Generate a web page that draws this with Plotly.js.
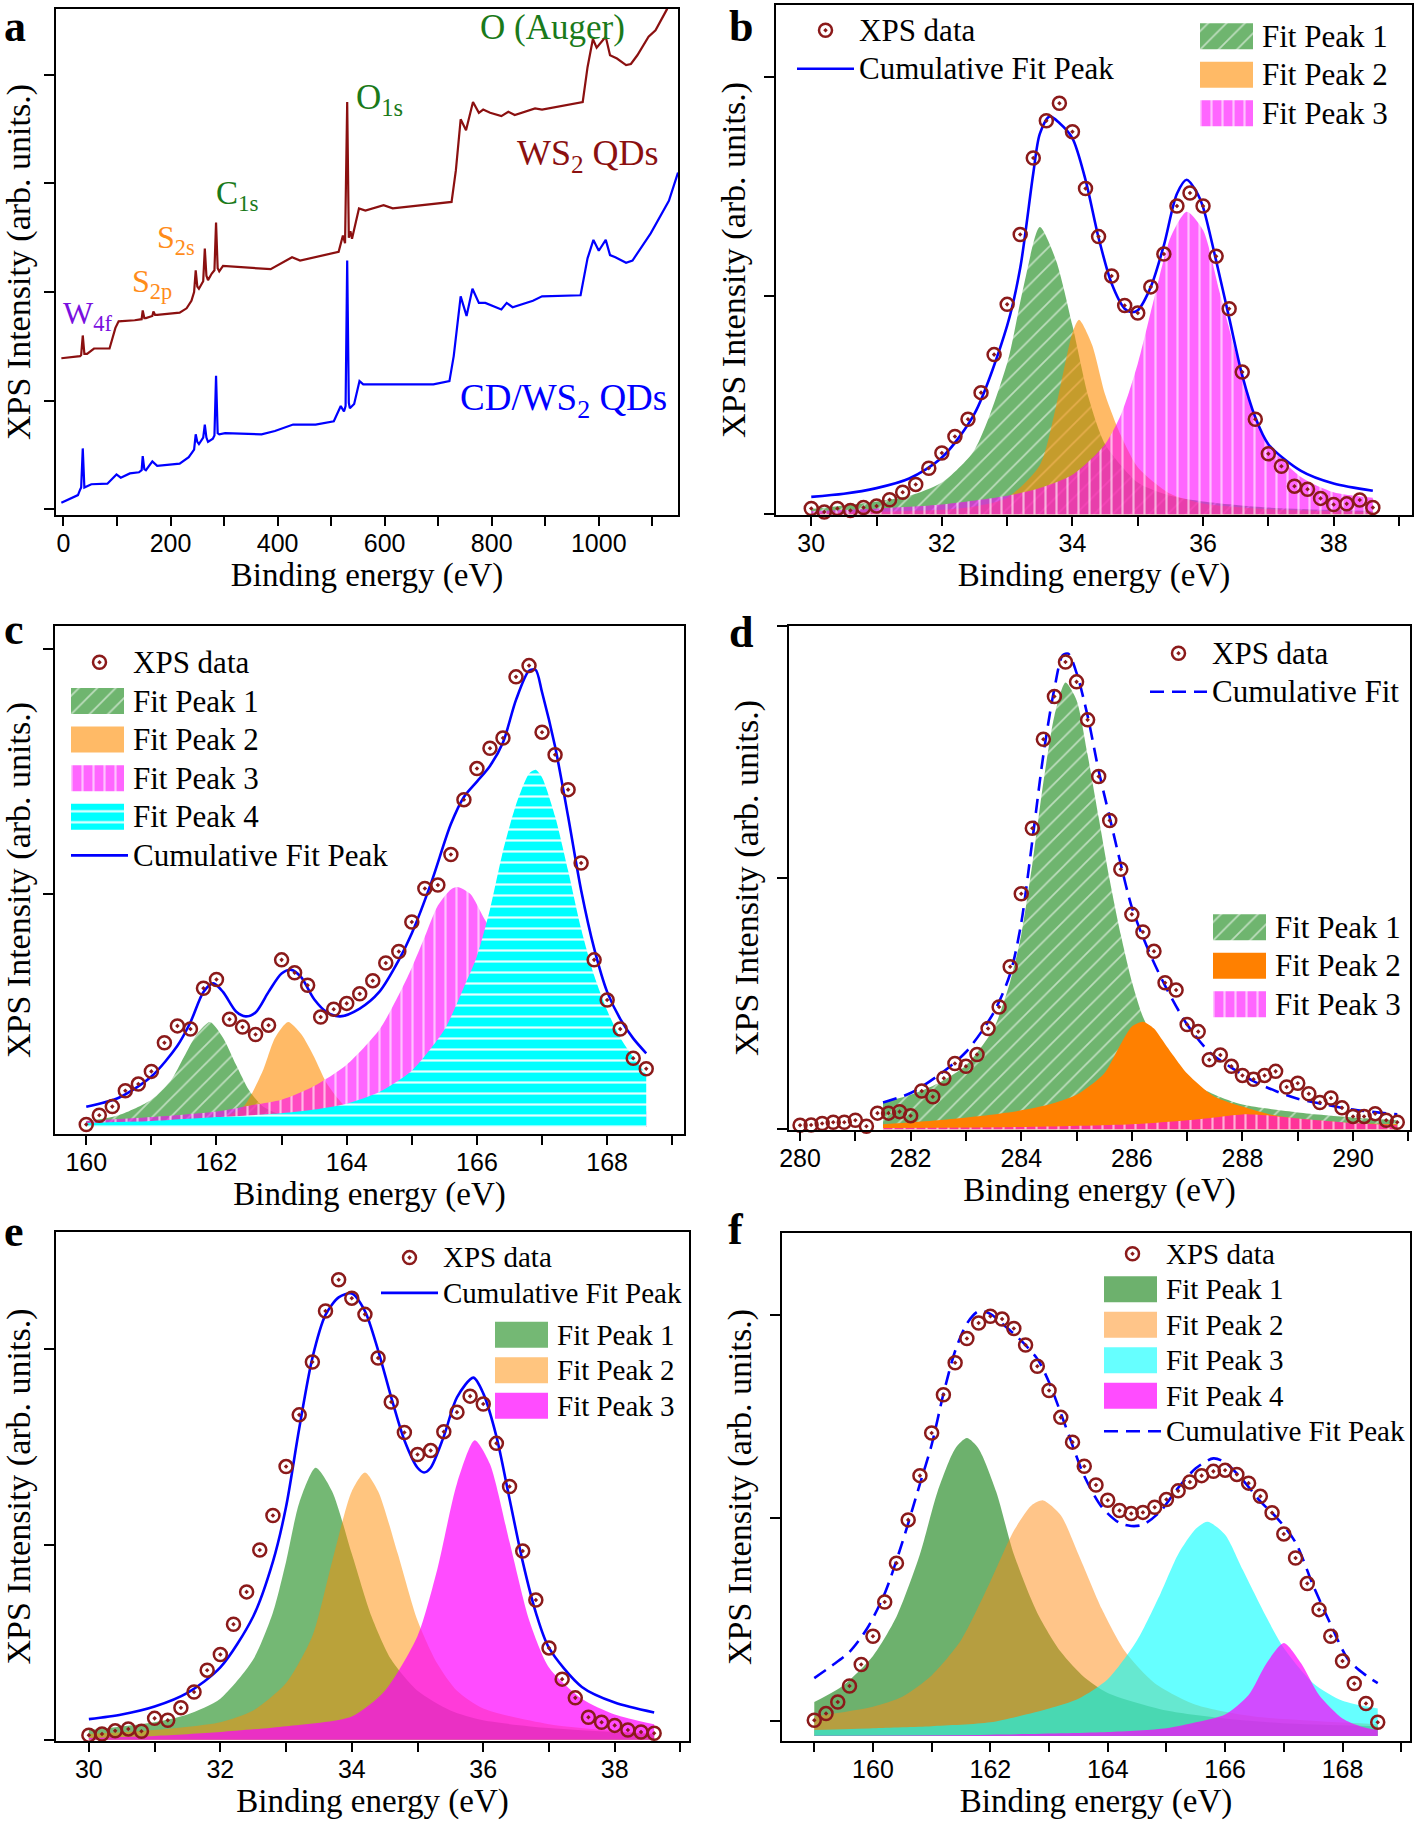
<!DOCTYPE html>
<html>
<head>
<meta charset="utf-8">
<script src="https://cdn.plot.ly/plotly-3.0.1.min.js"></script>
<style>html,body{margin:0;padding:0;background:#fff;}</style>
</head>
<body>
<div id="chart" style="width:1418px;height:1823px;"></div>
<script>
// ---------------- Panel a : survey spectra ----------------
const surveyE_WS2 = [-4,31,33,36,39,44,57,86,97,103,133,146,148,151,154,166,168,171,175,217,230,239,244,247,250,253,261,264,267,270,277,282,285,288,291,298,387,404,427,442,480,514,522,526,530,533,536,539,552,564,598,615,725,733,742,752,765,776,784,797,818,831,843,881,894,970,979,989,996,1013,1021,1034,1051,1060,1072,1093,1106,1127,1140];
const surveyI_WS2 = [1.39,1.41,1.42,1.60,1.43,1.43,1.48,1.48,1.67,1.73,1.74,1.75,1.83,1.76,1.76,1.78,1.82,1.79,1.79,1.81,1.85,1.92,2.00,2.20,2.05,2.03,2.10,2.40,2.15,2.11,2.17,2.20,2.64,2.22,2.19,2.24,2.21,2.26,2.32,2.29,2.33,2.37,2.52,2.45,3.75,2.50,2.56,2.49,2.77,2.75,2.80,2.77,2.83,3.12,3.59,3.49,3.75,3.65,3.68,3.65,3.62,3.66,3.63,3.69,3.68,3.75,4.07,4.33,4.25,4.35,4.18,4.15,4.09,4.10,4.18,4.35,4.41,4.60,4.75];
const surveyE_CD = [-4,14,27,31,33,36,39,52,82,99,107,124,141,146,148,151,154,166,175,217,234,244,247,250,253,261,264,267,270,279,282,285,288,291,302,370,395,429,471,505,518,524,527,530,533,535,543,553,560,640,691,721,729,742,753,764,776,788,818,828,839,877,894,966,979,990,1000,1013,1021,1031,1051,1063,1097,1131,1148];
const surveyI_CD = [0.06,0.10,0.13,0.18,0.20,0.56,0.20,0.23,0.235,0.32,0.29,0.33,0.34,0.36,0.49,0.37,0.36,0.44,0.40,0.42,0.48,0.55,0.69,0.62,0.60,0.66,0.78,0.66,0.62,0.65,0.68,1.23,0.70,0.69,0.70,0.69,0.72,0.78,0.78,0.81,0.95,0.90,0.95,2.29,0.98,0.93,0.97,1.18,1.15,1.15,1.15,1.18,1.41,1.96,1.78,2.03,1.90,1.90,1.84,1.90,1.86,1.92,1.96,1.97,2.31,2.48,2.38,2.48,2.34,2.32,2.27,2.29,2.54,2.84,3.10];
const surveyLabels = ['O (Auger)','O<sub>1s</sub>','WS<sub>2</sub> QDs','C<sub>1s</sub>','S<sub>2s</sub>','S<sub>2p</sub>','W<sub>4f</sub>','CD/WS<sub>2</sub> QDs'];
const surveyLabelE = [914,590,979,325,211,165,45,934];
const surveyLabelI = [4.44,3.77,3.26,2.89,2.48,2.08,1.78,1.00];

// ---------------- Panel b : W 4f (WS2 QDs) ----------------
const bE = [30.0,30.2,30.4,30.6,30.8,31.0,31.2,31.4,31.6,31.8,32.0,32.2,32.4,32.6,32.8,33.0,33.2,33.4,33.6,33.8,34.0,34.2,34.4,34.6,34.8,35.0,35.2,35.4,35.6,35.8,36.0,36.2,36.4,36.6,36.8,37.0,37.2,37.4,37.6,37.8,38.0,38.2,38.4,38.6];
const bData = [0.026,0.01,0.026,0.017,0.03,0.037,0.066,0.10,0.136,0.21,0.28,0.355,0.434,0.556,0.73,0.96,1.28,1.63,1.80,1.88,1.75,1.49,1.27,1.09,0.955,0.92,1.04,1.19,1.41,1.47,1.41,1.18,0.94,0.65,0.434,0.276,0.219,0.128,0.114,0.072,0.044,0.047,0.065,0.03];
const bCumE = [30.0,30.5,31.0,31.5,32.0,32.5,33.0,33.2,33.4,33.5,33.65,33.8,34.0,34.2,34.4,34.6,34.8,34.9,35.0,35.2,35.4,35.6,35.75,35.9,36.0,36.2,36.4,36.6,36.8,37.0,37.5,38.0,38.6];
const bCum = [0.079,0.093,0.119,0.163,0.259,0.46,0.863,1.126,1.56,1.74,1.82,1.79,1.72,1.53,1.265,1.055,0.94,0.924,0.933,1.04,1.23,1.466,1.53,1.475,1.405,1.16,0.898,0.635,0.443,0.32,0.198,0.14,0.107];
const bP1E = [30.0,31.0,31.5,32.0,32.5,33.0,33.25,33.5,33.75,34.0,34.25,34.5,35.0,35.5,36.0,37.0,38.6];
const bP1 = [0.023,0.058,0.084,0.145,0.294,0.69,1.04,1.314,1.16,0.863,0.53,0.32,0.145,0.084,0.058,0.03,0.014];
const bP2E = [30.0,32.0,32.5,33.0,33.5,33.75,34.0,34.1,34.3,34.5,34.75,35.0,35.5,36.0,37.0,38.6];
const bP2 = [0.005,0.02,0.035,0.075,0.224,0.495,0.83,0.889,0.775,0.548,0.355,0.215,0.093,0.049,0.023,0.01];
const bP3E = [30.0,31.0,32.0,33.0,33.5,34.0,34.5,34.75,35.0,35.25,35.5,35.75,36.0,36.25,36.5,36.75,37.0,37.5,38.0,38.6];
const bP3 = [0.014,0.026,0.044,0.084,0.119,0.18,0.32,0.46,0.688,0.986,1.265,1.384,1.30,1.02,0.74,0.48,0.32,0.17,0.10,0.075];

// ---------------- Panel c : S 2p ----------------
const cE = [160.0,160.2,160.4,160.6,160.8,161.0,161.2,161.4,161.6,161.8,162.0,162.2,162.4,162.6,162.8,163.0,163.2,163.4,163.6,163.8,164.0,164.2,164.4,164.6,164.8,165.0,165.2,165.4,165.6,165.8,166.0,166.2,166.4,166.6,166.8,167.0,167.2,167.4,167.6,167.8,168.0,168.2,168.4,168.6];
const cData = [0.01,0.048,0.083,0.148,0.175,0.227,0.344,0.413,0.40,0.567,0.603,0.44,0.408,0.378,0.416,0.683,0.63,0.579,0.449,0.481,0.505,0.544,0.598,0.67,0.717,0.838,0.975,0.989,1.114,1.338,1.465,1.548,1.59,1.84,1.886,1.614,1.522,1.379,1.079,0.683,0.519,0.40,0.281,0.238];
const cCumE = [160.0,160.5,161.0,161.4,161.6,161.8,161.95,162.1,162.3,162.45,162.6,162.8,163.0,163.15,163.3,163.5,163.7,163.9,164.2,164.5,164.8,165.0,165.3,165.6,165.8,166.0,166.2,166.4,166.6,166.8,166.9,167.0,167.2,167.4,167.6,167.8,168.0,168.2,168.4,168.6];
const cCum = [0.082,0.119,0.206,0.332,0.428,0.552,0.587,0.552,0.472,0.452,0.468,0.552,0.627,0.642,0.612,0.522,0.468,0.452,0.484,0.552,0.682,0.792,1.0,1.238,1.349,1.412,1.476,1.572,1.746,1.865,1.869,1.777,1.555,1.269,0.968,0.73,0.552,0.442,0.362,0.301];
const cP1E = [160.0,160.5,161.0,161.3,161.5,161.7,161.9,162.1,162.3,162.5,162.7,163.0,163.5,164.0,165.0,168.6];
const cP1 = [0.024,0.048,0.111,0.19,0.286,0.38,0.429,0.365,0.254,0.15,0.087,0.048,0.024,0.016,0.008,0.003];
const cP2E = [160.0,161.0,162.0,162.4,162.7,162.9,163.1,163.3,163.5,163.7,164.0,164.5,165.0,166.0,168.6];
const cP2 = [0.002,0.008,0.032,0.079,0.222,0.365,0.429,0.38,0.286,0.175,0.079,0.032,0.016,0.008,0.003];
const cP3E = [160.0,161.0,162.0,162.5,163.0,163.5,164.0,164.5,164.8,165.0,165.2,165.4,165.6,165.7,165.9,166.1,166.3,166.6,167.0,167.5,168.0,168.6];
const cP3 = [0.024,0.04,0.063,0.087,0.111,0.167,0.254,0.397,0.54,0.651,0.778,0.905,0.971,0.981,0.952,0.857,0.762,0.571,0.38,0.206,0.111,0.063];
const cP4E = [160.0,161.0,162.0,163.0,163.5,164.0,164.5,165.0,165.5,165.8,166.0,166.2,166.4,166.6,166.8,166.9,167.0,167.2,167.4,167.6,167.8,168.0,168.2,168.4,168.6];
const cP4 = [0.016,0.024,0.04,0.056,0.071,0.095,0.143,0.23,0.397,0.571,0.698,0.889,1.127,1.317,1.444,1.46,1.429,1.27,1.048,0.81,0.619,0.476,0.365,0.286,0.214];

// ---------------- Panel d : C 1s ----------------
const dE = [280.0,280.2,280.4,280.6,280.8,281.0,281.2,281.4,281.6,281.8,282.0,282.2,282.4,282.6,282.8,283.0,283.2,283.4,283.6,283.8,284.0,284.2,284.4,284.6,284.8,285.0,285.2,285.4,285.6,285.8,286.0,286.2,286.4,286.6,286.8,287.0,287.2,287.4,287.6,287.8,288.0,288.2,288.4,288.6,288.8,289.0,289.2,289.4,289.6,289.8,290.0,290.2,290.4,290.6,290.8];
const dData = [0.016,0.017,0.023,0.028,0.028,0.036,0.012,0.064,0.064,0.07,0.054,0.152,0.129,0.203,0.261,0.25,0.297,0.40,0.486,0.646,0.936,1.196,1.55,1.72,1.857,1.778,1.627,1.402,1.227,1.033,0.854,0.784,0.707,0.582,0.553,0.416,0.388,0.276,0.295,0.25,0.214,0.199,0.214,0.23,0.168,0.183,0.141,0.106,0.124,0.085,0.051,0.051,0.062,0.036,0.028];
const dCumE = [281.5,282.0,282.5,283.0,283.5,283.8,284.0,284.2,284.4,284.6,284.75,284.85,285.0,285.2,285.4,285.6,285.8,286.0,286.3,286.6,287.0,287.4,287.8,288.2,288.6,289.0,289.5,290.0,290.8];
const dCum = [0.106,0.144,0.214,0.307,0.463,0.618,0.82,1.146,1.488,1.752,1.884,1.89,1.814,1.643,1.425,1.239,1.053,0.882,0.711,0.571,0.416,0.307,0.245,0.191,0.152,0.121,0.098,0.078,0.059];
const dP1E = [281.5,282.0,282.5,283.0,283.5,283.8,284.0,284.2,284.4,284.6,284.8,285.0,285.2,285.4,285.6,285.8,286.0,286.2,286.5,287.0,287.5,288.0,289.0,290.0,290.8];
const dP1 = [0.106,0.137,0.183,0.253,0.40,0.587,0.773,1.053,1.379,1.643,1.775,1.705,1.488,1.239,0.991,0.773,0.587,0.447,0.323,0.199,0.137,0.098,0.067,0.047,0.036];
const dP2E = [281.5,282.5,283.5,284.0,284.5,285.0,285.5,285.8,286.0,286.2,286.4,286.6,287.0,287.5,288.0,288.5,289.0,290.0,290.8];
const dP2 = [0.02,0.036,0.059,0.075,0.098,0.137,0.222,0.339,0.408,0.427,0.40,0.339,0.222,0.129,0.09,0.059,0.043,0.025,0.02];
const dP3E = [281.5,284.0,286.0,287.0,287.5,288.0,288.5,289.0,290.0,290.8];
const dP3 = [0.005,0.009,0.02,0.036,0.047,0.059,0.054,0.043,0.025,0.016];

// ---------------- Panel e : W 4f (CD/WS2 QDs) ----------------
const eE = [30.0,30.2,30.4,30.6,30.8,31.0,31.2,31.4,31.6,31.8,32.0,32.2,32.4,32.6,32.8,33.0,33.2,33.4,33.6,33.8,34.0,34.2,34.4,34.6,34.8,35.0,35.2,35.4,35.6,35.8,36.0,36.2,36.4,36.6,36.8,37.0,37.2,37.4,37.6,37.8,38.0,38.2,38.4,38.6];
const eData = [0.024,0.03,0.046,0.056,0.044,0.11,0.10,0.164,0.245,0.357,0.437,0.592,0.758,0.973,1.149,1.40,1.665,1.936,2.197,2.357,2.263,2.18,1.956,1.731,1.575,1.462,1.482,1.579,1.679,1.761,1.721,1.519,1.298,0.967,0.716,0.471,0.311,0.215,0.116,0.09,0.074,0.05,0.04,0.034];
const eCumE = [30.0,30.5,31.0,31.5,32.0,32.5,32.8,33.0,33.2,33.4,33.6,33.8,34.0,34.2,34.4,34.6,34.8,35.0,35.1,35.2,35.4,35.6,35.85,36.0,36.2,36.4,36.6,36.8,37.0,37.5,38.0,38.6];
const eCum = [0.106,0.13,0.171,0.241,0.371,0.632,0.913,1.194,1.595,1.956,2.177,2.267,2.287,2.197,1.996,1.755,1.535,1.394,1.37,1.394,1.555,1.755,1.856,1.775,1.555,1.234,0.913,0.652,0.471,0.271,0.191,0.14];
const eP1E = [30.0,31.0,31.5,32.0,32.5,32.8,33.0,33.2,33.45,33.7,34.0,34.3,34.6,35.0,35.5,36.0,37.0,38.6];
const eP1 = [0.05,0.09,0.13,0.211,0.411,0.652,0.913,1.214,1.394,1.274,0.953,0.632,0.411,0.251,0.15,0.10,0.06,0.03];
const eP2E = [30.0,31.0,32.0,32.5,33.0,33.4,33.7,34.0,34.2,34.4,34.7,35.0,35.3,35.6,36.0,37.0,38.6];
const eP2 = [0.03,0.05,0.09,0.15,0.291,0.532,0.913,1.274,1.37,1.274,0.953,0.612,0.391,0.251,0.16,0.08,0.03];
const eP3E = [30.0,31.0,32.0,33.0,34.0,34.5,35.0,35.3,35.6,35.87,36.1,36.4,36.7,37.0,37.5,38.0,38.6];
const eP3 = [0.01,0.02,0.04,0.07,0.12,0.25,0.532,0.873,1.314,1.535,1.415,1.013,0.612,0.371,0.211,0.13,0.08];

// ---------------- Panel f : S 2p (CD/WS2 QDs) ----------------
const fE = [159.0,159.2,159.4,159.6,159.8,160.0,160.2,160.4,160.6,160.8,161.0,161.2,161.4,161.6,161.8,162.0,162.2,162.4,162.6,162.8,163.0,163.2,163.4,163.6,163.8,164.0,164.2,164.4,164.6,164.8,165.0,165.2,165.4,165.6,165.8,166.0,166.2,166.4,166.6,166.8,167.0,167.2,167.4,167.6,167.8,168.0,168.2,168.4,168.6];
const fData = [0.077,0.110,0.167,0.246,0.352,0.491,0.660,0.851,1.064,1.282,1.492,1.680,1.838,1.957,2.034,2.067,2.053,2.007,1.925,1.821,1.701,1.569,1.447,1.328,1.236,1.161,1.110,1.095,1.101,1.126,1.164,1.207,1.251,1.282,1.303,1.309,1.288,1.245,1.180,1.099,0.995,0.876,0.751,0.622,0.491,0.369,0.258,0.160,0.067];
const fCumE = [159.0,159.3,159.6,159.9,160.2,160.5,160.8,161.0,161.2,161.4,161.6,161.8,162.0,162.2,162.5,162.8,163.0,163.3,163.6,163.9,164.2,164.4,164.6,164.9,165.2,165.5,165.8,166.0,166.3,166.6,166.9,167.2,167.5,167.8,168.1,168.4,168.6];
const fCum = [0.285,0.346,0.414,0.529,0.702,0.953,1.241,1.434,1.684,1.896,2.031,2.092,2.079,2.031,1.954,1.857,1.742,1.511,1.280,1.127,1.049,1.034,1.040,1.107,1.222,1.318,1.367,1.347,1.261,1.155,1.068,0.953,0.741,0.548,0.375,0.298,0.260];
const fP1E = [159.0,159.5,160.0,160.4,160.8,161.1,161.4,161.6,161.8,162.1,162.4,162.8,163.2,163.6,164.0,165.0,166.0,167.0,168.6];
const fP1 = [0.167,0.250,0.394,0.587,0.895,1.203,1.415,1.467,1.415,1.203,0.895,0.606,0.414,0.289,0.212,0.125,0.086,0.063,0.048];
const fP2E = [159.0,160.0,160.5,161.0,161.5,162.0,162.4,162.7,162.9,163.2,163.5,163.9,164.3,164.8,165.5,166.5,168.6];
const fP2 = [0.096,0.144,0.193,0.298,0.471,0.760,1.010,1.135,1.160,1.087,0.895,0.625,0.414,0.260,0.154,0.096,0.058];
const fP3E = [159.0,160.0,161.0,162.0,163.0,163.5,164.0,164.5,164.9,165.2,165.5,165.7,166.0,166.3,166.7,167.0,167.5,168.0,168.6];
const fP3 = [0.029,0.038,0.048,0.067,0.135,0.183,0.279,0.471,0.702,0.895,1.020,1.055,0.991,0.818,0.587,0.433,0.260,0.173,0.135];
const fP4E = [159.0,162.0,164.0,165.0,165.5,166.0,166.4,166.7,167.0,167.3,167.6,168.0,168.3,168.6];
const fP4 = [0.001,0.006,0.019,0.038,0.067,0.106,0.202,0.356,0.458,0.356,0.202,0.086,0.048,0.029];

// ---------------- styling ----------------
const SERIF = '"Liberation Serif", "Times New Roman", serif';
const SANS = '"Liberation Sans", Arial, sans-serif';
const DOTRED = '#8B1A1A';
const BLUE = '#0000FF';
const W = 1418, H = 1823;
const px = v => v / W;
const py = v => 1 - v / H;

const HATCH = {shape:'/', fgcolor:'#ffffff', fgopacity:0.55, size:13, solidity:0.13};
const VSTRIPE = {shape:'|', fgcolor:'#ffffff', fgopacity:0.6, size:11, solidity:0.2};
const HSTRIPE = {shape:'-', fgcolor:'#ffffff', fgopacity:0.9, size:11, solidity:0.2};

// legend label with its own glyph size (legend font size sets the row pitch)
const nm = (s, size) => '<span style="font-size:' + size + 'px">' + s + '</span>';

function pts(x, y, xa, ya, lg, rank, ts) {
  return {type:'scatter', mode:'markers', x:x, y:y, xaxis:xa, yaxis:ya, name:nm('XPS data', ts),
    legend:lg, legendrank:rank, cliponaxis:false, hoverinfo:'skip',
    marker:{symbol:'circle-open-dot', size:13, color:DOTRED, line:{width:2.5, color:DOTRED}}};
}
function fit(x, y, xa, ya, name, lg, rank, color, pattern) {
  const t = {type:'scatter', mode:'lines', x:x, y:y, xaxis:xa, yaxis:ya, name:name,
    legend:lg, legendrank:rank, fill:'tozeroy', fillcolor:color, hoverinfo:'skip',
    line:{width:0, color:color, shape:'spline', smoothing:0.7}};
  if (pattern) t.fillpattern = Object.assign({bgcolor:color}, pattern);
  return t;
}
function cum(x, y, xa, ya, name, lg, rank, dash) {
  return {type:'scatter', mode:'lines', x:x, y:y, xaxis:xa, yaxis:ya, name:name,
    legend:lg, legendrank:rank, hoverinfo:'skip',
    line:{color:BLUE, width:2.6, shape:'spline', smoothing:0.8, dash:dash || 'solid'}};
}

const GREEN_H = 'rgba(50,150,50,0.70)';
const ORANGE_L = 'rgba(255,140,0,0.60)';
const MAGENTA_S = 'rgba(255,0,255,0.60)';
const T1 = 31, T2 = 29;

const traces = [
  // a
  {type:'scatter', mode:'lines', x:surveyE_WS2, y:surveyI_WS2, xaxis:'x', yaxis:'y', name:'WS2 QDs', showlegend:false,
   line:{color:'#8B1010', width:2.2}, hoverinfo:'skip'},
  {type:'scatter', mode:'lines', x:surveyE_CD, y:surveyI_CD, xaxis:'x', yaxis:'y', name:'CD/WS2 QDs', showlegend:false,
   line:{color:BLUE, width:2.2}, hoverinfo:'skip'},
  // b
  fit(bP1E, bP1, 'x2', 'y2', nm('Fit Peak 1', T1), 'legend2', 1, GREEN_H, HATCH),
  fit(bP2E, bP2, 'x2', 'y2', nm('Fit Peak 2', T1), 'legend2', 2, ORANGE_L),
  fit(bP3E, bP3, 'x2', 'y2', nm('Fit Peak 3', T1), 'legend2', 3, MAGENTA_S, VSTRIPE),
  cum(bCumE, bCum, 'x2', 'y2', nm('Cumulative Fit Peak', T1), 'legend', 2),
  pts(bE, bData, 'x2', 'y2', 'legend', 1, T1),
  // c
  fit(cP1E, cP1, 'x3', 'y3', nm('Fit Peak 1', T1), 'legend3', 2, GREEN_H, HATCH),
  fit(cP2E, cP2, 'x3', 'y3', nm('Fit Peak 2', T1), 'legend3', 3, ORANGE_L),
  fit(cP3E, cP3, 'x3', 'y3', nm('Fit Peak 3', T1), 'legend3', 4, MAGENTA_S, VSTRIPE),
  fit(cP4E, cP4, 'x3', 'y3', nm('Fit Peak 4', T1), 'legend3', 5, '#00FFFF', HSTRIPE),
  cum(cCumE, cCum, 'x3', 'y3', nm('Cumulative Fit Peak', T1), 'legend3', 6),
  pts(cE, cData, 'x3', 'y3', 'legend3', 1, T1),
  // d
  fit(dP1E, dP1, 'x4', 'y4', nm('Fit Peak 1', T1), 'legend5', 1, GREEN_H, HATCH),
  fit(dP2E, dP2, 'x4', 'y4', nm('Fit Peak 2', T1), 'legend5', 2, '#FF8000'),
  fit(dP3E, dP3, 'x4', 'y4', nm('Fit Peak 3', T1), 'legend5', 3, MAGENTA_S, VSTRIPE),
  cum(dCumE, dCum, 'x4', 'y4', nm('Cumulative Fit', T1), 'legend4', 2, '14px,8px'),
  pts(dE, dData, 'x4', 'y4', 'legend4', 1, T1),
  // e
  fit(eP1E, eP1, 'x5', 'y5', nm('Fit Peak 1', T2), 'legend7', 1, 'rgba(50,150,50,0.68)'),
  fit(eP2E, eP2, 'x5', 'y5', nm('Fit Peak 2', T2), 'legend7', 2, 'rgba(255,140,0,0.50)'),
  fit(eP3E, eP3, 'x5', 'y5', nm('Fit Peak 3', T2), 'legend7', 3, 'rgba(255,0,255,0.70)'),
  cum(eCumE, eCum, 'x5', 'y5', nm('Cumulative Fit Peak', T2), 'legend6', 2),
  pts(eE, eData, 'x5', 'y5', 'legend6', 1, T2),
  // f
  fit(fP1E, fP1, 'x6', 'y6', nm('Fit Peak 1', T2), 'legend8', 2, 'rgba(40,140,40,0.68)'),
  fit(fP2E, fP2, 'x6', 'y6', nm('Fit Peak 2', T2), 'legend8', 3, 'rgba(255,140,20,0.50)'),
  fit(fP3E, fP3, 'x6', 'y6', nm('Fit Peak 3', T2), 'legend8', 4, 'rgba(0,255,255,0.60)'),
  fit(fP4E, fP4, 'x6', 'y6', nm('Fit Peak 4', T2), 'legend8', 5, 'rgba(255,0,255,0.70)'),
  cum(fCumE, fCum, 'x6', 'y6', nm('Cumulative Fit Peak', T2), 'legend8', 6, '14px,8px'),
  pts(fE, fData, 'x6', 'y6', 'legend8', 1, T2)
];

function xax(l, r, range, dtick, minor, anchor) {
  return {domain:[px(l), px(r)], range:range, anchor:anchor, showline:true, mirror:true, linecolor:'#000', linewidth:2,
    ticks:'outside', ticklen:9, tickwidth:2, tickcolor:'#000', tick0:0, dtick:dtick, ticklabelstandoff:-4,
    minor:{ticks:'outside', dtick:minor, tick0:0, ticklen:9, tickwidth:2, tickcolor:'#000', showgrid:false},
    showgrid:false, zeroline:false, fixedrange:true,
    tickfont:{family:SANS, size:25, color:'#000'},
    title:{text:'Binding energy (eV)', font:{family:SERIF, size:33, color:'#000'}, standoff:0}};
}
function yax(t, b, range, tickvals, anchor) {
  return {domain:[py(b), py(t)], range:range, anchor:anchor, showline:true, mirror:true, linecolor:'#000', linewidth:2,
    ticks:'outside', ticklen:10, tickwidth:2, tickcolor:'#000', tickmode:'array', tickvals:tickvals, showticklabels:false,
    showgrid:false, zeroline:false, fixedrange:true,
    title:{text:'XPS Intensity (arb. units.)', font:{family:SERIF, size:34, color:'#000'}, standoff:8}};
}
function leg(xp, yp, size) {
  return {x:px(xp), y:py(yp), xanchor:'left', yanchor:'top', bgcolor:'rgba(0,0,0,0)', borderwidth:0,
    font:{family:SERIF, size:size, color:'#000'}, itemwidth:57, tracegroupgap:0, traceorder:'normal',
    itemclick:false, itemdoubleclick:false};
}

const annotations = [];
const panelLetters = ['a','b','c','d','e','f'];
const panelX = [15, 741, 14, 741, 14, 736];
const panelY = [0, 0, 629, 632, 1231, 1229];
panelLetters.forEach((s, i) => annotations.push({xref:'paper', yref:'paper', x:px(panelX[i]), y:py(panelY[i]),
  text:'<b>' + s + '</b>', showarrow:false, xanchor:'center', yanchor: i < 2 ? 'top' : 'middle',
  font:{family:SERIF, size:44, color:'#000'}}));
const labelColors = ['#1A7A1A','#1A7A1A','#8B1010','#1A7A1A','#FF8C1A','#FF8C1A','#7A10E0','#0000FF'];
const labelSizes = [35, 35, 36, 33, 32, 32, 32, 37];
surveyLabels.forEach((s, i) => annotations.push({xref:'x', yref:'y', x:surveyLabelE[i], y:surveyLabelI[i], text:s,
  showarrow:false, xanchor:'center', yanchor:'middle', font:{family:SERIF, size:labelSizes[i], color:labelColors[i]}}));

const layout = {
  width:W, height:H, margin:{l:0, r:0, t:0, b:0}, paper_bgcolor:'#fff', plot_bgcolor:'#fff',
  showlegend:true, hovermode:false,
  xaxis:  xax(56, 678, [-14, 1148], 200, 100, 'y'),
  yaxis:  yax(9, 515, [-0.053, 4.606], [0,1,2,3,4], 'x'),
  xaxis2: xax(776, 1412, [29.46, 39.2], 2, 1, 'y2'),
  yaxis2: yax(5, 515, [-0.004, 2.33], [0,1,2], 'x2'),
  xaxis3: xax(55, 684, [159.52, 169.18], 2, 1, 'y3'),
  yaxis3: yax(626, 1134, [-0.029, 2.048], [0.952, 1.952], 'x3'),
  xaxis4: xax(789, 1410, [279.8, 291.03], 2, 1, 'y4'),
  yaxis4: yax(626, 1130, [-0.003, 2.0], [0,1,2], 'x4'),
  xaxis5: xax(56, 689, [29.5, 39.13], 2, 1, 'y5'),
  yaxis5: yax(1232, 1741, [-0.006, 2.602], [0,1,2], 'x5'),
  xaxis6: xax(782, 1410, [158.45, 169.15], 2, 1, 'y6'),
  yaxis6: yax(1233, 1741, [-0.025, 2.477], [0.073, 1.073, 2.073], 'x6'),
  legend:  leg(792, 6, 27.3),
  legend2: leg(1195, 12, 27.3),
  legend3: leg(66, 638, 27.4),
  legend4: leg(1145, 629, 27.3),
  legend5: leg(1208, 903, 27.3),
  legend6: leg(376, 1235, 24.8),
  legend7: leg(490, 1312, 25),
  legend8: leg(1099, 1231, 25),
  annotations:annotations
};

Plotly.newPlot('chart', traces, layout, {staticPlot:true, displayModeBar:false}).then(function() {
  document.querySelectorAll('.legendfill path').forEach(function(p) {
    p.setAttribute('d', 'M5,-13h53v26h-53z');
  });
});
</script>
</body>
</html>
